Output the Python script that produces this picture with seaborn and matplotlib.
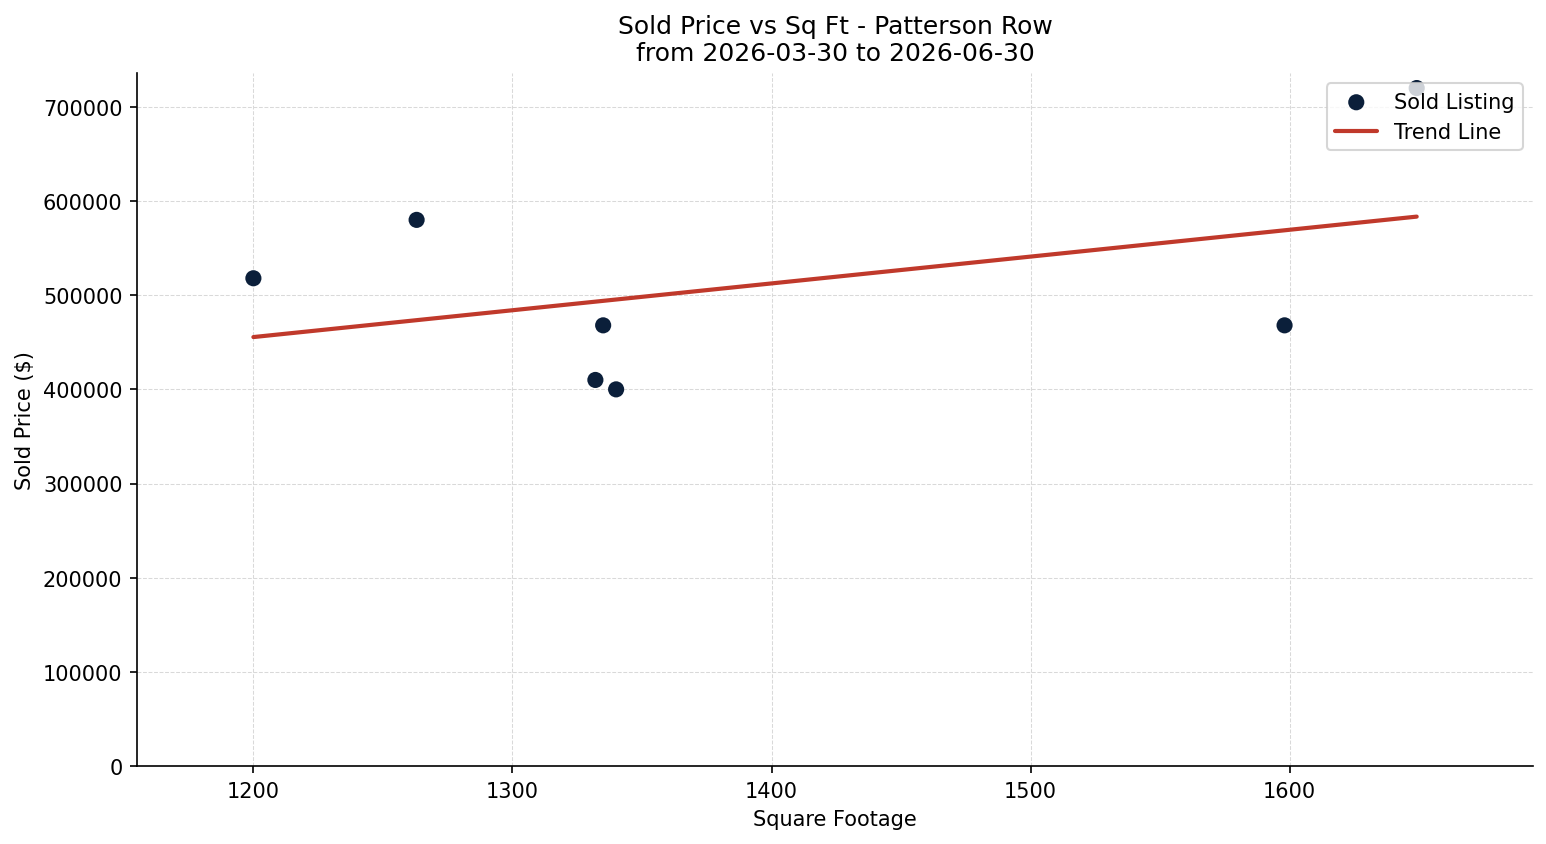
import numpy as np
import pandas as pd
import seaborn as sns
import matplotlib
matplotlib.use('Agg')
import matplotlib.pyplot as plt

sns.set_style('white', {'axes.edgecolor': 'black', 'text.color': 'black',
                        'axes.labelcolor': 'black', 'xtick.color': 'black',
                        'ytick.color': 'black'})

sqft = [1200, 1263, 1335, 1332, 1340, 1598, 1649]
price = [518000, 580000, 468000, 410000, 400000, 468000, 720000]

df = pd.DataFrame({'sqft': sqft, 'price': price})

slope, intercept = np.polyfit(df['sqft'], df['price'], 1)
trend_x = np.array([df['sqft'].min(), df['sqft'].max()])
trend = pd.DataFrame({'sqft': trend_x, 'price': slope * trend_x + intercept})

fig, ax = plt.subplots(figsize=(10.313, 5.633), dpi=150)

sns.scatterplot(data=df, x='sqft', y='price', color='#0b1f3a', s=60,
                edgecolor='none', label='Sold Listing', ax=ax, zorder=3)
sns.lineplot(data=trend, x='sqft', y='price', color='#c0392b', linewidth=2,
             label='Trend Line', ax=ax, zorder=2)

span = df['sqft'].max() - df['sqft'].min()
ax.set_xlim(df['sqft'].min() - 0.1 * span, df['sqft'].max() + 0.1 * span)
ax.set_ylim(bottom=0)

ax.grid(True, linestyle='--', linewidth=0.5, color='#d9d9d9')
ax.set_axisbelow(True)
sns.despine(ax=ax)
ax.tick_params(axis='both', which='both', length=3.5, width=0.8, left=True, bottom=True)

ax.set_title('Sold Price vs Sq Ft - Patterson Row\nfrom 2026-03-30 to 2026-06-30', fontsize=12)
ax.set_xlabel('Square Footage')
ax.set_ylabel('Sold Price ($)')
ax.legend(loc='upper right', fontsize=10)

fig.subplots_adjust(left=0.0886, right=0.991, top=0.9125, bottom=0.0923)
plt.savefig('out.png', dpi=150)
